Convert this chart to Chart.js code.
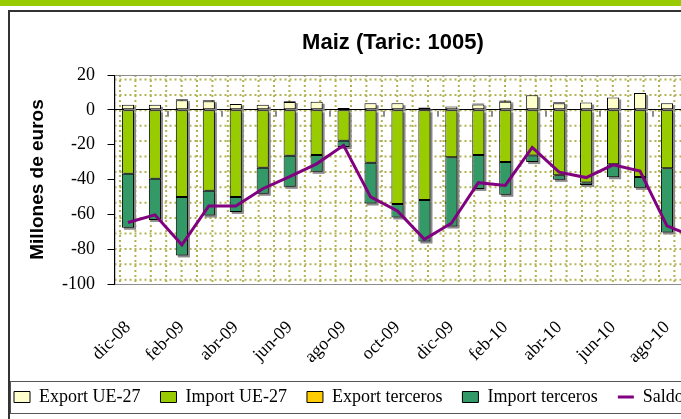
<!DOCTYPE html>
<html>
<head>
<meta charset="utf-8">
<script src="https://cdn.jsdelivr.net/npm/chart.js@4.4.0/dist/chart.umd.min.js"></script>
<style>
html, body { margin: 0; padding: 0; width: 681px; height: 419px; overflow: hidden; background: #fff; }
#banda { position: absolute; left: 0; top: 0; width: 681px; height: 6px; background: #99cc00; }
#marco { position: absolute; left: 8px; top: 10px; width: 800px; height: 420px; border-left: 2px solid #333; border-top: 2px solid #333; }
#caja { position: absolute; left: 10px; top: 12px; width: 766px; height: 407px; }
</style>
</head>
<body>
<div id="banda"></div>
<div id="marco"></div>
<div id="caja"><canvas id="maiz"></canvas></div>
<script>
// datos (millones de euros)
var meses = ['dic-08', 'ene-09', 'feb-09', 'mar-09', 'abr-09', 'may-09', 'jun-09', 'jul-09', 'ago-09', 'sep-09', 'oct-09',
  'nov-09', 'dic-09', 'ene-10', 'feb-10', 'mar-10', 'abr-10', 'may-10', 'jun-10', 'jul-10', 'ago-10', 'sep-10'];
var exportUE = [2.9, 2.9, 5.5, 5.0, 3.4, 2.9, 4.5, 4.6, 1.0, 3.8, 3.8, 1.3, 1.9, 3.1, 4.7, 8.4, 3.8, 4.2, 7.1, 9.6, 3.8, 3.0];
var importUE = [-36.7, -39.6, -50.1, -46.5, -50.1, -33.3, -26.4, -26.0, -17.8, -30.4, -54.0, -51.7, -27.2, -26.0, -30.0,
  -26.2, -37.5, -41.7, -31.2, -38.5, -33.5, -35.0];
var exportTerceros = [0, 0, 0.6, 0.5, 0, 0, 0.5, 0, 0, 0, 0, 0, 0, 0.5, 0.7, 0, 0.6, 0, 0, 0, 0, 0];
var importTerceros = [-31.0, -23.6, -33.5, -14.2, -8.5, -14.9, -17.8, -9.6, -3.6, -23.4, -7.8, -23.9, -39.8, -19.4, -18.8,
  -3.8, -2.7, -1.4, -7.5, -6.3, -36.9, -41.0];
var saldo = [-64.7, -60.3, -77.5, -55.2, -55.2, -45.3, -38.3, -31.0, -20.4, -50.0, -58.0, -74.3, -65.1, -41.8, -43.4,
  -21.6, -35.8, -38.9, -31.6, -35.2, -66.6, -73.0];

var serif = 'Liberation Serif';
var sans = 'Liberation Sans';

function barras(label, data, color) {
  return {
    label: label, data: data, backgroundColor: color, borderColor: '#000', borderWidth: 1,
    borderSkipped: false, stack: 'c', barPercentage: 0.45, categoryPercentage: 1
  };
}

// fondo punteado, sombras, marcas del eje y recuadro de la leyenda
var adornos = {
  id: 'adornos',
  afterLayout: function (chart) {
    chart.legend.left = -16;
  },
  beforeDraw: function (chart) {
    var ctx = chart.ctx, a = chart.chartArea, paso = 15.4;
    ctx.save();
    ctx.beginPath();
    ctx.rect(a.left, a.top, a.width, a.height);
    ctx.clip();
    ctx.lineWidth = 2;
    ctx.setLineDash([2, 3]);
    ctx.strokeStyle = '#b2b252';
    for (var x = a.left + 5.5; x < a.right; x += paso) {
      ctx.beginPath(); ctx.moveTo(x, a.top); ctx.lineTo(x, a.bottom); ctx.stroke();
    }
    for (var y = a.top + 4.5; y < a.bottom; y += paso) {
      ctx.beginPath(); ctx.moveTo(a.left, y); ctx.lineTo(a.right, y); ctx.stroke();
    }
    ctx.restore();
    ctx.save();
    ctx.strokeStyle = '#8c8c8c';
    ctx.lineWidth = 1;
    ctx.strokeRect(a.left + 0.5, a.top + 0.5, a.width, a.height);
    ctx.restore();
  },
  beforeDatasetsDraw: function (chart) {
    var ctx = chart.ctx;
    ctx.save();
    ctx.fillStyle = '#8a8a8a';
    chart.data.datasets.forEach(function (ds, i) {
      if (ds.type === 'line') return;
      chart.getDatasetMeta(i).data.forEach(function (bar) {
        var p = bar.getProps(['x', 'y', 'base', 'width'], true);
        var h = Math.abs(p.y - p.base);
        if (h < 0.5) return;
        ctx.fillRect(p.x - p.width / 2 + 2, Math.min(p.y, p.base) + 2, p.width, h);
      });
    });
    ctx.restore();
  },
  afterDatasetsDraw: function (chart) {
    var ctx = chart.ctx, xs = chart.scales.x, ys = chart.scales.y;
    var y0 = ys.getPixelForValue(0);
    var medio = (xs.getPixelForValue(1) - xs.getPixelForValue(0)) / 2;
    ctx.save();
    ctx.strokeStyle = '#8c8c8c';
    ctx.lineWidth = 2;
    for (var i = 2; i < meses.length; i += 2) {
      var x = Math.round(xs.getPixelForValue(i) - medio);
      ctx.beginPath(); ctx.moveTo(x, y0 + 1); ctx.lineTo(x, y0 + 7); ctx.stroke();
    }
    ctx.restore();
  },
  afterDraw: function (chart) {
    var ctx = chart.ctx, hb = chart.legend.legendHitBoxes[0];
    var yc = hb.top + hb.height / 2;
    ctx.save();
    ctx.strokeStyle = '#555';
    ctx.lineWidth = 1;
    ctx.strokeRect(0.5, Math.round(yc - 16) + 0.5, chart.width + 10, 32);
    ctx.restore();
  }
};

var ctx = document.getElementById('maiz').getContext('2d');
var grafico = new Chart(ctx, {
  type: 'bar',
  data: {
    labels: meses,
    datasets: [
      barras('Export UE-27', exportUE, '#ffffcc'),
      barras('Import UE-27', importUE, '#99cc00'),
      barras('Export terceros', exportTerceros, '#ffcc00'),
      barras('Import terceros', importTerceros, '#339966'),
      {
        type: 'line', label: 'Saldo', data: saldo, borderColor: '#800080', backgroundColor: '#800080',
        borderWidth: 3, pointRadius: 0, tension: 0, fill: false, order: -1, stack: 's'
      }
    ]
  },
  options: {
    responsive: true,
    maintainAspectRatio: false,
    animation: false,
    layout: { padding: { left: 0, right: 0, top: 0, bottom: 3 } },
    plugins: {
      title: {
        display: true, text: 'Maiz (Taric: 1005)', color: '#000',
        font: { family: sans, size: 22, weight: 'bold' },
        padding: { top: 18, bottom: 18.6 }
      },
      legend: {
        display: true, position: 'bottom', align: 'start',
        labels: {
          color: '#000', font: { family: serif, size: 18 }, padding: 20,
          usePointStyle: true, pointStyleWidth: 16, boxHeight: 11,
          generateLabels: function (chart) {
            var items = Chart.defaults.plugins.legend.labels.generateLabels(chart);
            items.sort(function (a, b) { return a.datasetIndex - b.datasetIndex; });
            items.forEach(function (it) {
              var ds = chart.data.datasets[it.datasetIndex];
              if (ds.type === 'line') {
                it.pointStyle = 'line'; it.strokeStyle = ds.borderColor; it.lineWidth = 3;
              } else {
                it.pointStyle = 'rect'; it.strokeStyle = '#000'; it.lineWidth = 1;
              }
            });
            return items;
          }
        }
      },
      tooltip: { enabled: false }
    },
    scales: {
      x: {
        stacked: true,
        grid: { display: false, drawTicks: false },
        border: { display: false },
        ticks: {
          autoSkip: false, maxRotation: 45, minRotation: 45, padding: 33, color: '#000',
          font: { family: serif, size: 18 },
          callback: function (v, i) { return i % 2 === 0 ? meses[i] : ''; }
        },
        afterFit: function (s) { s.height = 84; }
      },
      y: {
        stacked: true, min: -100, max: 20,
        ticks: { stepSize: 20, padding: 12.5, color: '#000', font: { family: serif, size: 18 } },
        grid: {
          tickLength: 7, tickColor: '#000',
          color: function (c) { return c.tick && c.tick.value === 0 ? '#000' : 'rgba(0,0,0,0)'; }
        },
        border: { color: '#000', width: 1 },
        title: {
          display: true, text: 'Millones de euros', color: '#000',
          font: { family: sans, size: 19, weight: 'bold' }, padding: { top: 16, bottom: 0 }
        },
        afterFit: function (s) { s.width = 104.5; }
      },
      y2: {
        position: 'right', display: true,
        grid: { display: false }, ticks: { display: false }, border: { display: false },
        afterFit: function (s) { s.width = 68.6; }
      }
    }
  },
  plugins: [adornos]
});
</script>
</body>
</html>
